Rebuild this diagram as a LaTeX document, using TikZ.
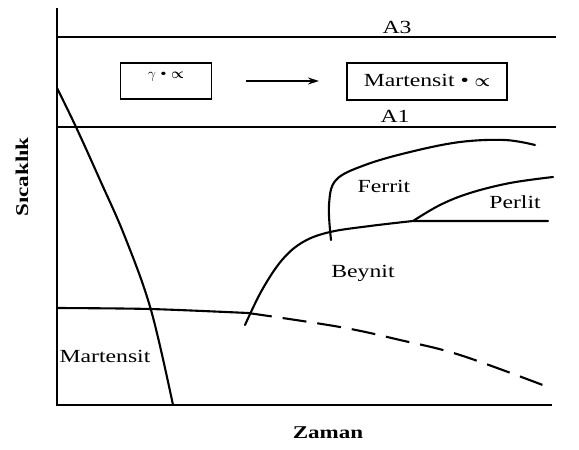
\documentclass[tikz,border=0pt]{standalone}
\usepackage{amsmath}
\usepackage{fontspec}
\setmainfont{Liberation Serif}[FakeStretch=1.28]
\usetikzlibrary{arrows.meta}
\tikzset{
  axisline/.style={line width=2.2pt},
  limline/.style={line width=2pt},
  curveline/.style={line width=2.1pt, line cap=round, line join=round},
  dashline/.style={line width=2.1pt, dash pattern=on 24pt off 11pt},
  box/.style={draw, line width=1.5pt, inner sep=0pt},
  lbl/.style={font=\fontsize{18.5}{20}\selectfont, inner sep=0pt},
  axlbl/.style={font=\bfseries\fontsize{18}{20}\selectfont, inner sep=0pt},
  small/.style={font=\fontsize{14}{16}\selectfont, inner sep=0pt}
}
\begin{document}
\begin{tikzpicture}[x=1pt,y=-1pt]
\useasboundingbox (0,0) rectangle (579,450);
% axes
\coordinate (O) at (57,405);
\coordinate (Ytop) at (57,8);
\coordinate (Xend) at (552,405);
\draw[axisline] (Ytop) -- (O) -- (Xend);
% A3 and A1 lines
\coordinate (A3l) at (57,37);
\coordinate (A3r) at (556,37);
\coordinate (A1l) at (57,127);
\coordinate (A1r) at (556,127);
\draw[limline] (A3l) -- (A3r);
\draw[limline] (A1l) -- (A1r);
\node[lbl] (A3) at (397,27) {A3};
\node[lbl] (A1) at (395,116) {A1};
% boxes and arrow
\node[box, minimum width=91pt, minimum height=36pt] (b1) at (166,81) {};
\node[small] (t1) at (166,77) {$\gamma$ • $\boldsymbol{\propto}$};
\node[box, minimum width=160pt, minimum height=37pt] (b2) at (427,81.5) {};
\node[lbl] (t2) at (427,80) {Martensit • $\boldsymbol{\propto}$};
\coordinate (arS) at (246,81);
\coordinate (arE) at (319,81);
\draw[line width=1.5pt, -{Stealth[length=11pt,width=7pt]}] (arS) -- (arE);
% martensite curve
\coordinate (m0) at (57,88);
\coordinate (m1) at (76,127);
\coordinate (m2) at (100,180);
\coordinate (m3) at (125,237);
\coordinate (m4) at (151,310);
\coordinate (m5) at (173,405);
\draw[curveline] plot[smooth, tension=0.6] coordinates {(m0) (m1) (m2) (m3) (m4) (m5)};
% Ms line
\coordinate (s0) at (57,308);
\coordinate (s1) at (150,309);
\coordinate (s2) at (248,313);
\draw[curveline] plot[smooth] coordinates {(s0) (s1) (s2)};
\coordinate (d1) at (340,327);
\coordinate (d2) at (400,340);
\coordinate (d3) at (460,355);
\coordinate (d4) at (548,387);
\draw[dashline] plot[smooth, tension=0.6] coordinates {(s2) (d1) (d2) (d3) (d4)};
% bainite curve
\coordinate (b0) at (245,325);
\coordinate (bb1) at (262,290);
\coordinate (bb2) at (282,260);
\coordinate (bb3) at (303,242);
\coordinate (bb4) at (330,232);
\coordinate (bb5) at (370,226);
\coordinate (bb6) at (413,221);
\coordinate (bb7) at (548,221);
\draw[curveline] plot[smooth, tension=0.6] coordinates {(b0) (bb1) (bb2) (bb3) (bb4) (bb5) (bb6)} -- (bb7);
% ferrite curve
\coordinate (f0) at (331,240);
\coordinate (f1) at (329,205);
\coordinate (f2) at (336,180);
\coordinate (f3) at (365,165);
\coordinate (f4) at (410,152);
\coordinate (f5) at (460,142);
\coordinate (f6) at (505,140);
\coordinate (f7) at (535,145);
\draw[curveline] plot[smooth, tension=0.6] coordinates {(f0) (f1) (f2) (f3) (f4) (f5) (f6) (f7)};
% perlite curve
\coordinate (p1) at (440,205);
\coordinate (p2) at (470,193);
\coordinate (p3) at (510,183);
\coordinate (p4) at (553,177);
\draw[curveline] plot[smooth, tension=0.6] coordinates {(bb6) (p1) (p2) (p3) (p4)};
% region labels
\node[lbl] (Lf) at (384,186) {Ferrit};
\node[lbl] (Lp) at (515,202) {Perlit};
\node[lbl] (Lb) at (363,273) {Beynit};
\node[lbl] (Lm) at (105,356) {Martensit};
\node[axlbl] (Lx) at (328,433) {Zaman};
\node[axlbl, rotate=90] (Ly) at (22,177) {Sıcaklık};
\end{tikzpicture}
\end{document}
